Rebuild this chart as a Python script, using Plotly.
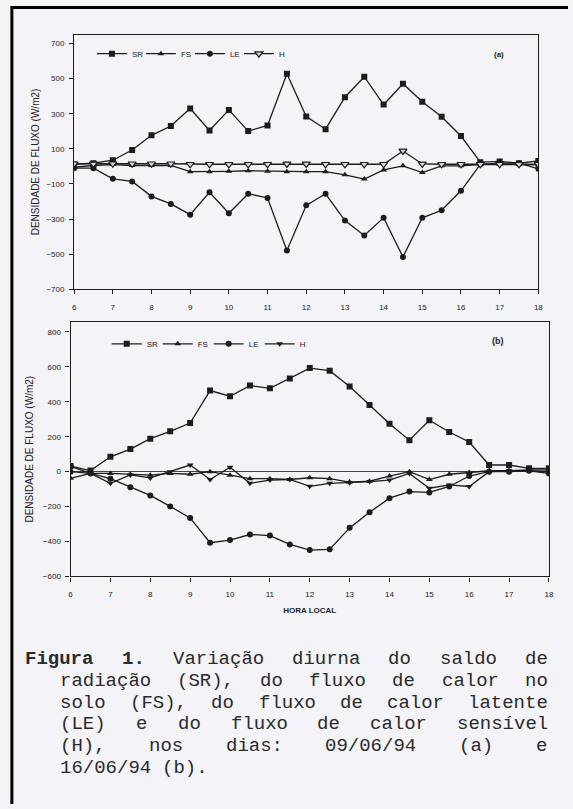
import plotly.graph_objects as go

W, H = 573, 809

hours = [6, 6.5, 7, 7.5, 8, 8.5, 9, 9.5, 10, 10.5, 11, 11.5, 12, 12.5,
         13, 13.5, 14, 14.5, 15, 15.5, 16, 16.5, 17, 17.5, 18]

# Panel (a) 09/06/94
sr_a = [12, 18, 35, 93, 177, 230, 330, 205, 322, 201, 233, 528, 284, 212,
        394, 511, 352, 471, 368, 283, 173, 24, 28, 18, 31]
fs_a = [-5, 5, 10, 5, 5, 5, -30, -30, -28, -25, -28, -30, -30, -30,
        -48, -72, -20, 3, -35, 3, 3, 10, 12, 10, 8]
le_a = [-10, -10, -71, -86, -171, -214, -275, -148, -267, -156, -180, -479, -222, -156,
        -309, -394, -293, -516, -293, -250, -139, 12, 18, 18, -14]
h_a = [15, 14, 15, 15, 15, 15, 12, 12, 12, 12, 12, 14, 14, 12,
       12, 12, 12, 88, 14, 12, 12, 12, 12, 12, 12]

# Panel (b) 16/06/94
sr_b = [32, 6, 85, 129, 189, 231, 278, 464, 432, 493, 477, 534, 593, 578,
        487, 382, 274, 180, 294, 227, 170, 38, 38, 19, 19]
fs_b = [-38, -10, -10, -15, -20, -10, -15, 0, -20, -40, -40, -45, -35, -40,
        -60, -55, -25, 0, -45, -15, -5, 5, 5, 5, 0]
le_b = [0, -10, -40, -89, -136, -199, -265, -407, -392, -360, -366, -417, -449, -445,
        -322, -233, -152, -114, -119, -85, -25, 0, 0, 5, -10]
h_b = [30, -10, -67, -19, -36, 0, 38, -45, 25, -67, -48, -45, -84, -67,
       -63, -57, -48, -10, -95, -76, -85, 0, 5, 10, 10]

names = ["SR", "FS", "LE", "H"]
symbols = ["square", "triangle-up", "circle", "triangle-down"]
xticks = list(range(6, 19))
yticks_a = [700, 500, 300, 100, -100, -300, -500, -700]
yticks_b = [800, 600, 400, 200, 0, -200, -400, -600]

caption_lines = [
    "Figura 1. Variação diurna do saldo de",
    "radiação (SR), do fluxo de calor no",
    "solo (FS), do fluxo de calor latente",
    "(LE) e do fluxo de calor sensível",
    "(H), nos dias: 09/06/94 (a) e",
    "16/06/94 (b).",
]

INK = "#1c1c1c"
BG = "#f4f3f8"

fig = go.Figure()
series_a = [sr_a, fs_a, le_a, h_a]
series_b = [sr_b, fs_b, le_b, h_b]
for i in range(4):
    mk = dict(symbol=symbols[i], size=6, color=INK)
    if i == 3:
        mk = dict(symbol=symbols[i], size=7, color="#d8d8d8",
                  line=dict(color=INK, width=1.2))
    fig.add_trace(go.Scatter(
        x=hours, y=series_a[i], name=names[i], mode="lines+markers",
        line=dict(color=INK, width=1.3), marker=mk,
        xaxis="x", yaxis="y", legend="legend"))
for i in range(4):
    fig.add_trace(go.Scatter(
        x=hours, y=series_b[i], name=names[i], mode="lines+markers",
        line=dict(color=INK, width=1.3),
        marker=dict(symbol=symbols[i], size=6, color=INK),
        xaxis="x2", yaxis="y2", legend="legend2"))


def px(x):
    return x / W


def py(y):
    return 1 - y / H


axfont = dict(family="Arial", size=8, color="#222")
common = dict(showgrid=False, showline=True, linecolor=INK, linewidth=1.2,
              mirror=True, ticks="outside", ticklen=4, tickcolor=INK,
              tickfont=axfont)
ytitle_font = dict(family="Arial", size=10, color="#222")

fig.update_layout(
    width=W, height=H,
    margin=dict(l=0, r=0, t=0, b=0),
    paper_bgcolor=BG, plot_bgcolor=BG,
    font=dict(family="Arial", color="#222"),
    xaxis=dict(domain=[px(73), px(543)], range=[6, 18], tickvals=xticks,
               zeroline=False, anchor="y", ticklabelstandoff=6, **common),
    yaxis=dict(domain=[py(291), py(35)], range=[-700, 750], tickvals=yticks_a,
               zeroline=False, anchor="x", ticklabelstandoff=3,
               title=dict(text="DENSIDADE DE FLUXO (W/m2)", font=ytitle_font,
                          standoff=4), **common),
    xaxis2=dict(domain=[px(69.4), px(553.7)], range=[6, 18], tickvals=xticks,
                zeroline=False, anchor="y2", ticklabelstandoff=6,
                title=dict(text="<b>HORA LOCAL</b>",
                           font=dict(family="Liberation Sans Narrow, Arial", size=8,
                                     color="#222"),
                           standoff=9), **common),
    yaxis2=dict(domain=[py(580), py(324)], range=[-600, 857], tickvals=yticks_b,
                zeroline=True, zerolinecolor="#3a3a8a", zerolinewidth=1,
                anchor="x2", ticklabelstandoff=3,
                title=dict(text="DENSIDADE DE FLUXO (W/m2)", font=ytitle_font,
                           standoff=7), **common),
    legend=dict(orientation="h", x=px(91), y=py(54), xanchor="left", yanchor="middle",
                bgcolor="rgba(0,0,0,0)", font=dict(family="Arial", size=8, color="#222"),
                itemwidth=30, entrywidth=4, tracegroupgap=0),
    legend2=dict(orientation="h", x=px(106), y=py(346), xanchor="left", yanchor="middle",
                 bgcolor="rgba(0,0,0,0)", font=dict(family="Arial", size=8, color="#222"),
                 itemwidth=30, entrywidth=6, tracegroupgap=0),
    showlegend=True,
)

fig.add_annotation(text="<b>(a)</b>", x=px(510), y=py(48), xref="paper", yref="paper",
                   showarrow=False, font=dict(family="Arial", size=8, color="#222"))
fig.add_annotation(text="<b>(b)</b>", x=px(510), y=py(343), xref="paper", yref="paper",
                   showarrow=False, font=dict(family="Arial", size=9, color="#222"))

# justified monospace caption, word by word
FS_CAP = 19
CW = 0.6 * FS_CAP
line_y = [663, 685, 707, 729, 751, 773]
line_left = [22.5, 58, 58, 58, 58, 58]
RIGHT = 551
for li, (txt, yy, left) in enumerate(zip(caption_lines, line_y, line_left)):
    words = txt.split(" ")
    nchar = sum(len(w) for w in words)
    if li == len(caption_lines) - 1:
        gap = CW
    else:
        gap = (RIGHT - left - nchar * CW) / (len(words) - 1)
    xcur = left
    for wi, w in enumerate(words):
        label = w
        if li == 0 and wi < 2:
            label = "<b>" + w + "</b>"
        fig.add_annotation(text=label, x=px(xcur), y=py(yy), xref="paper", yref="paper",
                           xanchor="left", yanchor="middle", align="left",
                           showarrow=False, borderpad=0,
                           font=dict(family="Liberation Mono, Courier New, monospace",
                                     size=FS_CAP, color="#2a2a2a"))
        xcur += len(w) * CW + gap

# page frame (left and top edges of the scanned box)
fig.add_shape(type="line", xref="paper", yref="paper", x0=px(10), x1=px(10),
              y0=0, y1=py(6), line=dict(color="#000", width=3))
fig.add_shape(type="line", xref="paper", yref="paper", x0=px(9), x1=1,
              y0=py(7.5), y1=py(7.5), line=dict(color="#000", width=3))

fig.write_html("out.html", config={"displayModeBar": False},
               post_script="document.body.style.margin='0';document.body.style.padding='0';")
